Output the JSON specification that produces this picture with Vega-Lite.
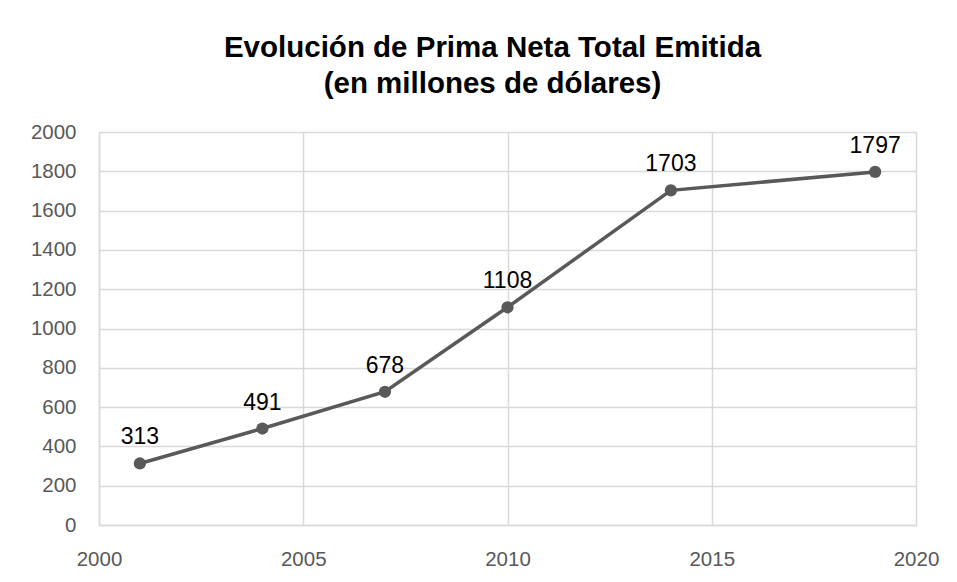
{
  "$schema": "https://vega.github.io/schema/vega-lite/v6.json",
  "width": 817,
  "height": 393,
  "autosize": {"type": "none"},
  "padding": {"left": 99, "top": 132, "right": 41, "bottom": 57},
  "background": "white",
  "title": {
    "text": ["Evolución de Prima Neta Total Emitida", "(en millones de dólares)"],
    "font": "Liberation Sans",
    "fontSize": 29.5,
    "fontWeight": "bold",
    "color": "#000000",
    "lineHeight": 36,
    "anchor": "middle",
    "frame": "group",
    "dx": -15,
    "offset": 23
  },
  "config": {
    "view": {"stroke": null},
    "axis": {
      "labelFont": "Liberation Sans",
      "labelFontSize": 20.5,
      "labelColor": "#595959",
      "gridColor": "#d9d9d9",
      "gridWidth": 1.5,
      "domainColor": "#d9d9d9",
      "domainWidth": 1.5,
      "ticks": false,
      "title": null
    }
  },
  "data": {
    "values": [
      {"year": 2001, "value": 313},
      {"year": 2004, "value": 491},
      {"year": 2007, "value": 678},
      {"year": 2010, "value": 1108},
      {"year": 2014, "value": 1703},
      {"year": 2019, "value": 1797}
    ]
  },
  "encoding": {
    "x": {
      "field": "year",
      "type": "quantitative",
      "scale": {"domain": [2000, 2020], "nice": false, "zero": false},
      "axis": {"values": [2000, 2005, 2010, 2015, 2020], "format": "d", "labelPadding": 24, "labelFlush": false, "labelOverlap": false}
    },
    "y": {
      "field": "value",
      "type": "quantitative",
      "scale": {"domain": [0, 2000], "nice": false},
      "axis": {"values": [0, 200, 400, 600, 800, 1000, 1200, 1400, 1600, 1800, 2000], "format": "d", "labelPadding": 23}
    }
  },
  "layer": [
    {
      "mark": {"type": "line", "color": "#595959", "strokeWidth": 3.5}
    },
    {
      "mark": {"type": "point", "filled": true, "color": "#595959", "opacity": 1, "size": 150}
    },
    {
      "mark": {"type": "text", "font": "Liberation Sans", "fontSize": 23, "color": "#000000", "dy": -26, "baseline": "middle", "align": "center"},
      "encoding": {"text": {"field": "value", "type": "quantitative", "format": "d"}}
    }
  ]
}
